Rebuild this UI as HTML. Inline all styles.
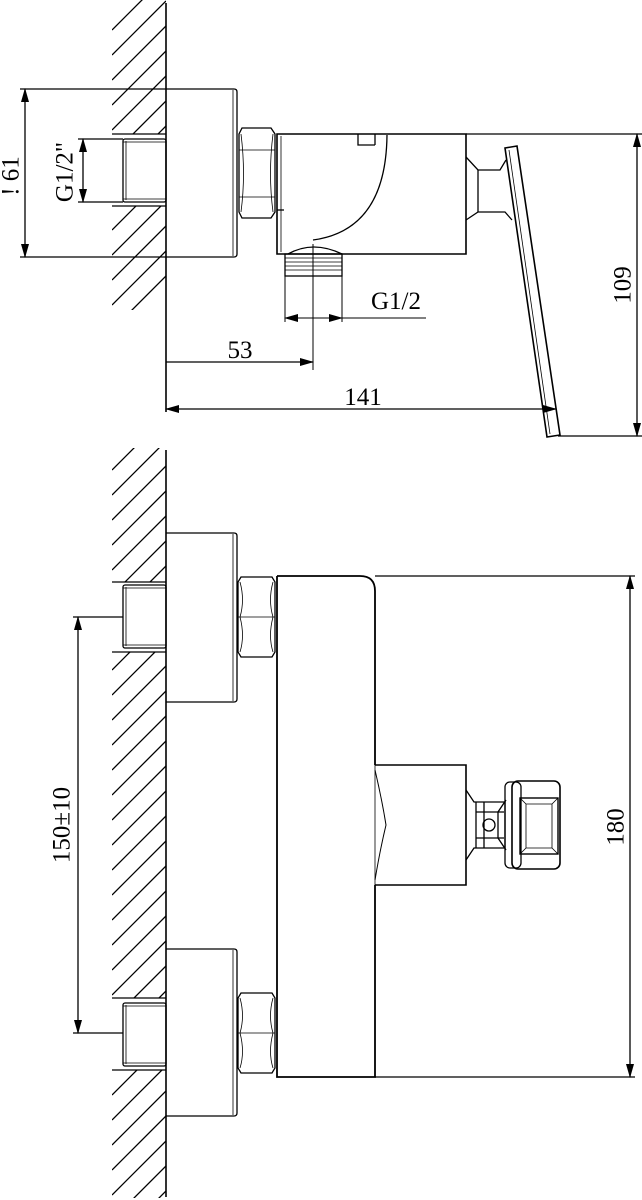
<!DOCTYPE html>
<html><head><style>html,body{margin:0;padding:0;background:#fff}svg{display:block}</style></head>
<body>
<svg width="642" height="1200" viewBox="0 0 642 1200" xmlns="http://www.w3.org/2000/svg" font-family="Liberation Serif, serif">
<defs>
<clipPath id="h1"><path d="M112 0H166V134H112ZM112 206H166V310H112Z"/></clipPath>
<clipPath id="h2"><path d="M112 448H166V582H112ZM112 652H166V998H112ZM112 1070H166V1198H112Z"/></clipPath>
<marker id="a" markerWidth="14" markerHeight="8" refX="13" refY="4" orient="auto-start-reverse" markerUnits="userSpaceOnUse"><path d="M0 0L14 4L0 8Z" fill="#000"/></marker>
</defs>
<g stroke="#000" fill="none" stroke-width="1.3">
<g clip-path="url(#h1)" stroke-width="1.3">
<path d="M112 30L166 -24M112 55L166 1M112 80L166 26M112 105L166 51M112 130L166 76M112 155L166 101M112 180L166 126M112 205L166 151M112 230L166 176M112 255L166 201M112 280L166 226M112 305L166 251M112 330L166 276"/>
</g>
<g clip-path="url(#h2)" stroke-width="1.3">
<path d="M112 470L166 416M112 495L166 441M112 520L166 466M112 545L166 491M112 570L166 516M112 595L166 541M112 620L166 566M112 645L166 591M112 670L166 616M112 695L166 641M112 720L166 666M112 745L166 691M112 770L166 716M112 795L166 741M112 820L166 766M112 845L166 791M112 870L166 816M112 895L166 841M112 920L166 866M112 945L166 891M112 970L166 916M112 995L166 941M112 1020L166 966M112 1045L166 991M112 1070L166 1016M112 1095L166 1041M112 1120L166 1066M112 1145L166 1091M112 1170L166 1116M112 1195L166 1141M112 1220L166 1166M112 1245L166 1191"/>
</g>
<path d="M166 3V412" stroke-width="1.6"/>
<path d="M112 134H166M112 206H166"/>
<rect x="123" y="139" width="43" height="63" rx="2"/><path d="M126 141V200M123 142H166M123 199H166" stroke-width="0.8"/>
<path d="M166 89H234Q237 89 237 92V254Q237 257 234 257H166"/><path d="M233 90V256" stroke-width="0.8"/>
<path d="M20 89H166M20 257H166"/>
<path d="M25 89V257" marker-start="url(#a)" marker-end="url(#a)"/>
<path d="M78 139H123M78 202H123"/>
<path d="M83 139V202" marker-start="url(#a)" marker-end="url(#a)"/>
<path d="M242 128H271L275 134V212L271 218H242L239 212V134Z"/>
<path d="M239 150H275M239 197H275M241 134Q246 174 241 212M273 134Q268 174 273 212" stroke-width="0.8"/>
<path d="M277 134H466V254H277Z" stroke-width="1.6"/>
<path d="M281 136V252" stroke-width="0.8"/>
<path d="M358 134V145H375M375 134V145"/>
<path d="M387 135Q386 230 313 240"/>
<path d="M277 210H284"/>
<path d="M288 254Q313 240 342 254"/>
<rect x="285" y="254" width="57" height="22"/>
<path d="M285 258H342M285 262H342M285 266H342M285 270H342" stroke-width="0.8"/>
<path d="M313 244V370" stroke-width="1"/>
<path d="M285 276V322M342 276V322M342 318H426" stroke-width="1"/>
<path d="M313 318H285" marker-end="url(#a)" stroke-width="1"/>
<path d="M313 318H342" marker-end="url(#a)" stroke-width="1"/>
<path d="M166 362H313" marker-end="url(#a)"/>
<path d="M166 409H556" marker-start="url(#a)" marker-end="url(#a)"/>
<path d="M466 157L478 170H500L506 160M466 220L478 212H505L512 220" />
<path d="M478 170V212"/>
<path d="M505 148L517 146L560 435L547 437Z" stroke-width="1.6"/>
<path d="M509 150L550 434" stroke-width="0.8"/>
<path d="M466 134H642M558 436H642"/>
<path d="M637 134V436" marker-start="url(#a)" marker-end="url(#a)"/>
<path d="M166 450V1197" stroke-width="1.6"/>
<path d="M112 582H166M112 652H166M112 998H166M112 1070H166"/>
<rect x="123" y="585" width="43" height="63" rx="2"/><path d="M126 587V646M123 588H166M123 645H166" stroke-width="0.8"/>
<rect x="123" y="1003" width="43" height="63" rx="2"/><path d="M126 1005V1064M123 1006H166M123 1063H166" stroke-width="0.8"/>
<path d="M166 533H234Q237 533 237 536V699Q237 702 234 702H166"/><path d="M233 534V701" stroke-width="0.8"/>
<path d="M166 949H234Q237 949 237 952V1113Q237 1116 234 1116H166"/><path d="M233 950V1115" stroke-width="0.8"/>
<path d="M241 577H272L275 582V652L272 657H241L238 652V582Z"/>
<path d="M238 617H275M240 582Q245 600 240 617Q245 636 240 652M273 582Q268 600 273 617Q268 636 273 652" stroke-width="0.8"/>
<path d="M241 993H272L275 998V1068L272 1073H241L238 1068V998Z"/>
<path d="M238 1033H275M240 998Q245 1016 240 1033Q245 1052 240 1068M273 998Q268 1016 273 1033Q268 1052 273 1068" stroke-width="0.8"/>
<path d="M277 576H360Q375 576 375 591V765M375 885V1077H277V576" stroke-width="1.8"/>
<path d="M375 765V885" stroke-width="0.8"/>
<path d="M375 765H466V885H375" stroke-width="1.6"/>
<path d="M375 770Q382 800 386 825Q380 850 375 880" stroke-width="1"/>
<path d="M466 790L474 802H505V848H474L466 860" />
<path d="M476 802V848M484 802V848M476 812H504M476 838H504"/>
<circle cx="489" cy="825" r="6"/>
<path d="M506 800L498 812V838L506 850"/>
<rect x="505" y="782" width="16" height="86" rx="5"/>
<rect x="512" y="781" width="48" height="88" rx="6" stroke-width="1.6"/>
<rect x="520" y="798" width="38" height="56" stroke-width="1.4"/>
<path d="M526 804H552V848H526Z M520 798L526 804M558 798L552 804M520 854L526 848M558 854L552 848" stroke-width="0.8"/>
<path d="M375 576H635M375 1077H635"/>
<path d="M630 576V1077" marker-start="url(#a)" marker-end="url(#a)"/>
<path d="M73 617H123M73 1033H123"/>
<path d="M78 617V1033" marker-start="url(#a)" marker-end="url(#a)"/>
</g>
<g font-size="25" fill="#000">
<text x="13" y="176" transform="rotate(-90 13 176)" text-anchor="middle" dominant-baseline="middle">! 61</text>
<text x="67" y="172" transform="rotate(-90 67 172)" text-anchor="middle" dominant-baseline="middle">G1/2"</text>
<text x="396" y="309" text-anchor="middle">G1/2</text>
<text x="240" y="358" text-anchor="middle">53</text>
<text x="363" y="405" text-anchor="middle">141</text>
<text x="625" y="285" transform="rotate(-90 625 285)" text-anchor="middle" dominant-baseline="middle">109</text>
<text x="64" y="825" transform="rotate(-90 64 825)" text-anchor="middle" dominant-baseline="middle">150±10</text>
<text x="618" y="827" transform="rotate(-90 618 827)" text-anchor="middle" dominant-baseline="middle">180</text>
</g>
</svg>
</body></html>
